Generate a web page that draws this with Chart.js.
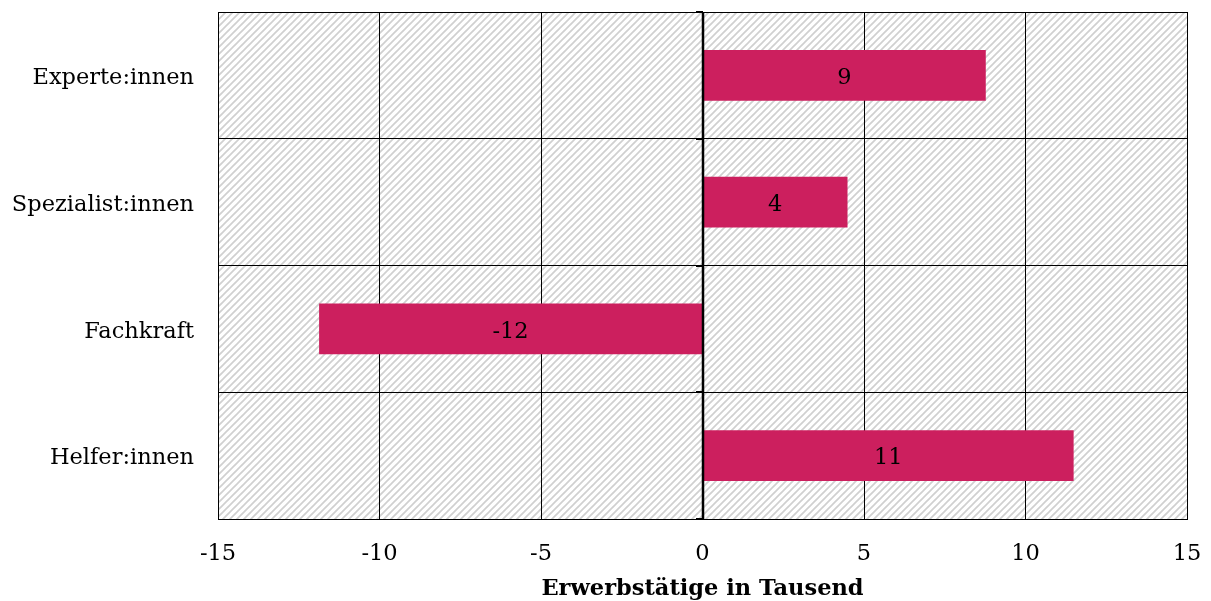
<!DOCTYPE html>
<html>
<head>
<meta charset="utf-8">
<script src="https://cdn.jsdelivr.net/npm/chart.js@4.4.1/dist/chart.umd.min.js"></script>
<style>
  html, body { margin: 0; padding: 0; background: #fff; }
  #wrap { width: 1211px; height: 601px; }
</style>
</head>
<body>
<div id="wrap"><canvas id="c" width="1211" height="601"></canvas></div>
<script>
// Change in employment by requirement level (thousands)
const categories = ['Experte:innen', 'Spezialist:innen', 'Fachkraft', 'Helfer:innen'];
const changeValues = [8.77, 4.49, -11.87, 11.49];
const xTicks = [-15, -10, -5, 0, 5, 10, 15];
const xTitle = 'Erwerbstätige in Tausend';

const FONT = '"DejaVu Serif", "Liberation Serif", serif';
const FONT_SIZE = 22.5;
const BAR = '#cc1f5e';
const TEXT = '#000';

// light diagonal hatching behind the plot area
function hatchPattern(ctx) {
  const s = 7;
  const c = document.createElement('canvas');
  c.width = s; c.height = s;
  const g = c.getContext('2d');
  g.fillStyle = '#ffffff';
  g.fillRect(0, 0, s, s);
  g.strokeStyle = '#d0d0d0';
  g.lineWidth = 1.7;
  g.beginPath();
  g.moveTo(-1, s + 1); g.lineTo(s + 1, -1);
  g.moveTo(-1, 1); g.lineTo(1, -1);
  g.moveTo(s - 1, s + 1); g.lineTo(s + 1, s - 1);
  g.stroke();
  return ctx.createPattern(c, 'repeat');
}

const backgroundPlugin = {
  id: 'hatchBg',
  beforeDraw(chart) {
    const { ctx, chartArea: a } = chart;
    ctx.save();
    ctx.fillStyle = hatchPattern(ctx);
    ctx.fillRect(a.left, a.top, a.right - a.left, a.bottom - a.top);
    ctx.restore();
  }
};

// thick zero line with short ticks at the category borders
const zeroAxisPlugin = {
  id: 'zeroAxis',
  afterDatasetsDraw(chart) {
    const { ctx, chartArea: a, scales } = chart;
    const x0 = Math.round(scales.x.getPixelForValue(0));
    ctx.save();
    ctx.strokeStyle = '#000';
    ctx.lineWidth = 2.5;
    ctx.beginPath();
    ctx.moveTo(x0, a.top);
    ctx.lineTo(x0, a.bottom);
    ctx.stroke();
    ctx.lineWidth = 2;
    const n = categories.length;
    const step = (a.bottom - a.top) / n;
    for (let i = 0; i <= n; i++) {
      const y = Math.round(a.top + i * step);
      ctx.beginPath();
      ctx.moveTo(x0 - 7, y);
      ctx.lineTo(x0, y);
      ctx.stroke();
    }
    ctx.restore();
  }
};

// value labels centered inside bars
const valueLabelPlugin = {
  id: 'valueLabels',
  afterDatasetsDraw(chart) {
    const { ctx } = chart;
    const meta = chart.getDatasetMeta(0);
    ctx.save();
    ctx.font = FONT_SIZE + 'px ' + FONT;
    ctx.fillStyle = TEXT;
    ctx.textAlign = 'center';
    ctx.textBaseline = 'middle';
    meta.data.forEach((bar, i) => {
      const v = changeValues[i];
      const cx = (bar.x + bar.base) / 2;
      ctx.fillText(String(Math.round(v)), cx, bar.y + 3);
    });
    ctx.restore();
  }
};

new Chart(document.getElementById('c'), {
  type: 'bar',
  data: {
    labels: categories,
    datasets: [{
      data: changeValues,
      backgroundColor: BAR,
      borderWidth: 0,
      categoryPercentage: 1,
      barPercentage: 0.4
    }]
  },
  options: {
    indexAxis: 'y',
    responsive: false,
    animation: false,
    layout: { padding: { top: 12, right: 24, bottom: 0, left: 0 } },
    plugins: { legend: { display: false }, tooltip: { enabled: false } },
    scales: {
      x: {
        min: -15, max: 15,
        afterBuildTicks(scale) { scale.ticks = xTicks.map(v => ({ value: v })); },
        ticks: {
          color: TEXT,
          font: { family: FONT, size: FONT_SIZE },
          padding: 22
        },
        grid: { color: '#000', lineWidth: 1, drawTicks: false },
        border: { color: '#000', width: 1 },
        title: {
          display: true,
          text: xTitle,
          color: TEXT,
          font: { family: FONT, size: FONT_SIZE, weight: 'bold' },
          padding: { top: 4, bottom: -2 }
        },
        afterFit(scale) {
          scale.height = 82;
          scale.paddingLeft = 0;
          scale.paddingRight = 0;
        }
      },
      y: {
        ticks: {
          color: TEXT,
          font: { family: FONT, size: FONT_SIZE },
          padding: 24,
          labelOffset: 3
        },
        grid: { color: '#000', lineWidth: 1, drawTicks: false, offset: true },
        border: { color: '#000', width: 1 },
        afterFit(scale) {
          scale.width = 218;
          scale.paddingTop = 0;
          scale.paddingBottom = 0;
        }
      }
    }
  },
  plugins: [backgroundPlugin, zeroAxisPlugin, valueLabelPlugin]
});
</script>
</body>
</html>
